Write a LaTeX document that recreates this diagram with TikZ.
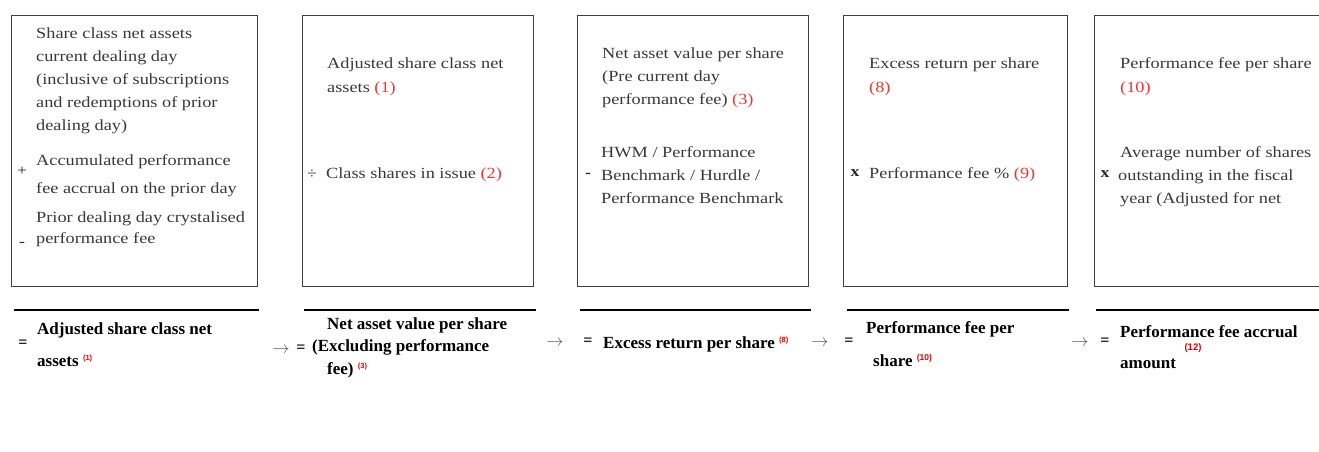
\documentclass[tikz,border=0pt]{standalone}
\usepackage{fontspec}
\usepackage{xcolor}
\usepackage{tikz}
\setmainfont{Liberation Serif}
\newfontfamily\boxfont{Liberation Serif}[FakeStretch=1.18]
\newfontfamily\resfont{Liberation Serif}
\newfontfamily\supfont{Liberation Sans}
\definecolor{refred}{RGB}{238,52,52}
\definecolor{supred}{RGB}{225,0,0}
\newcommand{\refnum}[1]{\textcolor{refred}{(#1)}}
\newcommand{\supnum}[2][7.5]{\raisebox{6pt}{\supfont\bfseries\fontsize{#1}{#1}\selectfont\textcolor{supred}{(#2)}}}
\tikzset{
    calc-box/.style = {draw=black!75, line width=0.9pt},
    % multi-line nodes sit on the baseline of their last line
    box-text/.style = {anchor=base west, inner sep=0pt, align=left, text=black!78, font=\boxfont\fontsize{15.5}{23}\selectfont},
    op-sign/.style = {inner sep=0pt, text=black!85, font=\boxfont\fontsize{15}{18}\selectfont},
    result-rule/.style = {line width=1.2pt},
    result-text/.style = {anchor=base west, inner sep=0pt, align=left, font=\resfont\bfseries\fontsize{17}{32}\selectfont},
    eq-sign/.style = {inner sep=0pt, font=\resfont\bfseries\fontsize{16}{18}\selectfont},
    flow-arrow/.style = {inner sep=0pt, text=black!65, font=\fontsize{17}{18}\selectfont},
}

\begin{document}
\begin{tikzpicture}[x=1pt, y=-1pt]
\useasboundingbox (0,0) rectangle (1319,451);

% the five calculation boxes
\draw[calc-box] (11,15) rectangle (257,286);
\draw[calc-box] (302,15) rectangle (533,286);
\draw[calc-box] (577,15) rectangle (808,286);
\draw[calc-box] (843,15) rectangle (1067,286);
\draw[calc-box] (1325,15) -- (1094,15) -- (1094,286) -- (1325,286);

% box 1
\node[box-text] (netassets) at (36,130) {Share class net assets\\current dealing day\\(inclusive of subscriptions\\and redemptions of prior\\dealing day)};
\node[op-sign] (plus) at (22,171) {+};
\node[box-text] (accrual) at (36,193) {Accumulated performance\\[5pt]fee accrual on the prior day};
\node[box-text] (crystal) at (36,243) {Prior dealing day crystalised\\[-2pt]performance fee};
\node[op-sign] (minusa) at (22,244) {-};

% box 2
\node[box-text] (adjassets) at (327,92) {Adjusted share class net\\[1pt]assets \refnum{1}};
\node[op-sign] (divide) at (312,174) {÷};
\node[box-text] (classshares) at (326,178) {Class shares in issue \refnum{2}};

% box 3
\node[box-text] (navpre) at (602,104) {Net asset value per share\\(Pre current day\\performance fee) \refnum{3}};
\node[box-text] (hwm) at (601,203) {HWM / Performance\\Benchmark / Hurdle /\\Performance Benchmark};
\node[op-sign, font=\boxfont\bfseries\fontsize{15}{18}\selectfont] (minusb) at (588,175) {-};

% box 4
\node[box-text] (excess) at (869,92) {Excess return per share\\[1pt]\refnum{8}};
\node[op-sign, font=\boxfont\bfseries\fontsize{15}{18}\selectfont] (timesa) at (855,173) {x};
\node[box-text] (feepct) at (869,178) {Performance fee \% \refnum{9}};

% box 5
\node[box-text] (feeshare) at (1120,92) {Performance fee per share\\[1pt]\refnum{10}};
\node[op-sign, font=\boxfont\bfseries\fontsize{15}{18}\selectfont] (timesb) at (1105,174) {x};
\node[box-text] (avgshares) at (1120,203) {Average number of shares\\\hspace*{-2pt}outstanding in the fiscal\\year (Adjusted for net};

% result rules
\draw[result-rule] (14,310) -- (259,310);
\draw[result-rule] (304,310) -- (536,310);
\draw[result-rule] (580,310) -- (811,310);
\draw[result-rule] (847,310) -- (1069,310);
\draw[result-rule] (1096,310) -- (1319,310);

% results
\node[eq-sign] (eqa) at (23,344) {=};
\node[result-text] (resa) at (37,366) {Adjusted share class net\\assets \supnum{1}};
\node[flow-arrow] (arra) at (281,350) {$\rightarrow$};
\node[eq-sign] (eqb) at (301,349) {=};
\node[result-text, font=\resfont\bfseries\fontsize{17}{22.5}\selectfont] (resb) at (312,374) {\hspace*{15pt}Net asset value per share\\(Excluding performance\\\hspace*{15pt}fee) \supnum{3}};
\node[flow-arrow] (arrb) at (555,343) {$\rightarrow$};
\node[eq-sign] (eqc) at (588,342) {=};
\node[result-text] (resc) at (603,348) {Excess return per share \supnum{8}};
\node[flow-arrow] (arrc) at (820,343) {$\rightarrow$};
\node[eq-sign] (eqd) at (849,342) {=};
\node[result-text, font=\resfont\bfseries\fontsize{17}{33}\selectfont] (resd) at (866,366) {Performance fee per\\\hspace*{7pt}share \supnum[8.5]{10}};
\node[flow-arrow] (arrd) at (1080,343) {$\rightarrow$};
\node[eq-sign] (eqe) at (1105,342) {=};
\node[result-text, font=\resfont\bfseries\fontsize{17}{31}\selectfont] (rese) at (1120,368) {Performance fee accrual\\amount};
\node[inner sep=0pt, font=\supfont\bfseries\fontsize{9.5}{9.5}\selectfont, text=supred] (supe) at (1193,348) {(12)};
\end{tikzpicture}
\end{document}
